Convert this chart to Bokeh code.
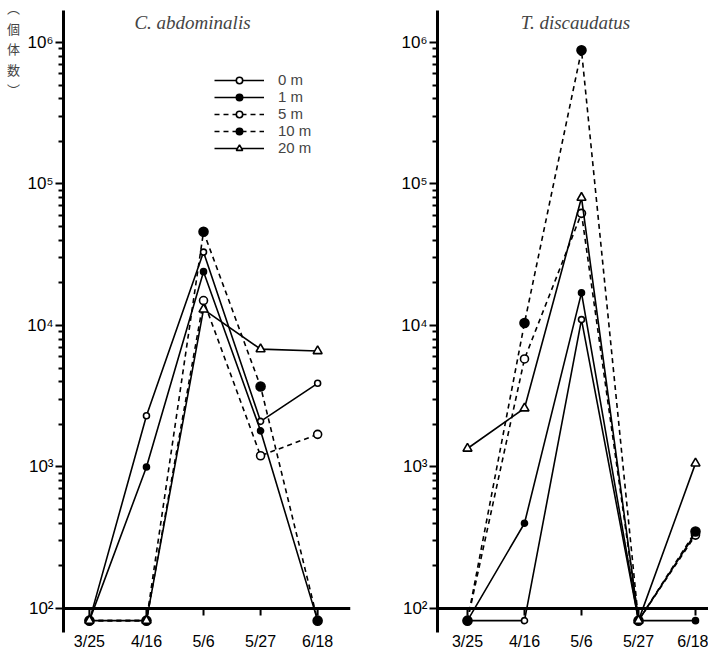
from bokeh.plotting import figure
from bokeh.layouts import row
from bokeh.models import Span, Label, Legend, LegendItem, FixedTicker, Range1d
from bokeh.embed import file_html
from bokeh.resources import INLINE

# ---------------- data ----------------
dates = ["3/25", "4/16", "5/6", "5/27", "6/18"]
depths = ["0 m", "1 m", "5 m", "10 m", "20 m"]

# C. abdominalis, individuals (0 = none found)
abd_0m = [0, 2300, 33000, 2100, 3900]
abd_1m = [0, 1000, 24000, 1800, 0]
abd_5m = [0, 0, 15000, 1200, 1700]
abd_10m = [0, 0, 46000, 3700, 0]
abd_20m = [0, 0, 13000, 6800, 6600]

# T. discaudatus, individuals (0 = none found)
dis_0m = [0, 0, 11000, 0, 340]
dis_1m = [0, 400, 17000, 0, 0]
dis_5m = [0, 5800, 62000, 0, 330]
dis_10m = [0, 10400, 880000, 0, 350]
dis_20m = [1350, 2600, 80000, 0, 1060]

y_major = [100, 1000, 10000, 100000, 1000000]
y_major_labels = ["10²", "10³", "10⁴", "10⁵", "10⁶"]

titles = ["C. abdominalis", "T. discaudatus"]
y_title_chars = ["︵", "個", "体", "数", "︶"]   # vertical "（個体数）"

# ---------------- style ----------------
ZERO_LEVEL = 82      # where "0" counts are drawn (just below the 10^2 axis)
AXIS_LEVEL = 100
styles = {
    "0 m": dict(marker="circle", size=6, fill="white", dash="solid"),
    "1 m": dict(marker="circle", size=6, fill="black", dash="solid"),
    "5 m": dict(marker="circle", size=8, fill="white", dash="5 4"),
    "10 m": dict(marker="circle", size=9, fill="black", dash="5 4"),
    "20 m": dict(marker="triangle", size=9, fill="white", dash="solid"),
}
SANS = "Liberation Sans"
H = 652


def plot_vals(v):
    return [a if a > 0 else ZERO_LEVEL for a in v]


def make_panel(series, width, border_left, border_right, xr, legend=False):
    p = figure(width=width, height=H, y_axis_type="log",
               x_range=Range1d(*xr), y_range=Range1d(10 ** 1.830, 10 ** 6.226),
               output_backend="svg", toolbar_location=None,
               min_border_left=border_left, min_border_right=border_right,
               min_border_top=10, min_border_bottom=0)
    p.outline_line_color = None
    p.xgrid.visible = False
    p.ygrid.visible = False
    p.background_fill_color = "white"
    p.border_fill_color = "white"

    # y axis
    ya = p.yaxis[0]
    ya.ticker = FixedTicker(ticks=y_major,
                            minor_ticks=[m * 10 ** e for e in range(2, 6) for m in range(2, 10)])
    ya.major_label_overrides = dict(zip(y_major, y_major_labels))
    ya.axis_line_width = 3
    ya.axis_line_color = "black"
    ya.major_tick_line_width = 2
    ya.minor_tick_line_width = 2
    ya.major_tick_out = 8
    ya.major_tick_in = 0
    ya.minor_tick_out = 5
    ya.minor_tick_in = 0
    ya.major_label_standoff = 2
    ya.major_label_text_font = SANS
    ya.major_label_text_font_size = "17px"
    ya.major_label_text_color = "black"

    # x axis labels (axis line drawn at 10^2 as a span)
    xa = p.xaxis[0]
    idx = list(range(len(dates)))
    xa.ticker = FixedTicker(ticks=idx)
    xa.major_label_overrides = {i: d for i, d in zip(idx, dates)}
    xa.axis_line_color = None
    xa.major_tick_line_color = None
    xa.minor_tick_line_color = None
    xa.major_tick_out = 0
    xa.major_tick_in = 0
    xa.major_label_standoff = 0
    xa.major_label_text_font = SANS
    xa.major_label_text_font_size = "16px"
    xa.major_label_text_color = "black"

    p.add_layout(Span(location=AXIS_LEVEL, dimension="width", line_color="black", line_width=3))
    p.segment(x0=idx, x1=idx, y0=[AXIS_LEVEL] * len(idx), y1=[AXIS_LEVEL * 0.89] * len(idx),
              line_color="black", line_width=2)

    items = []
    for name, vals in zip(depths, series):
        st = styles[name]
        yv = plot_vals(vals)
        lr = p.line(idx, yv, line_color="black", line_width=1.6, line_dash=st["dash"])
        sr = p.scatter(idx, yv, marker=st["marker"], size=st["size"],
                       fill_color=st["fill"], line_color="black", line_width=1.6)
        items.append(LegendItem(label=name, renderers=[lr, sr]))

    if legend:
        lg = Legend(items=items, location=(151, 476), padding=0, margin=0, spacing=0,
                    glyph_width=50, glyph_height=16, label_height=16, label_standoff=14,
                    label_text_font=SANS, label_text_font_size="15px",
                    label_text_line_height=1.0,
                    background_fill_alpha=0, border_line_alpha=0)
        p.add_layout(lg)
    return p


# narrow strip carrying the vertical y-axis title, one upright character per line
ylab = figure(width=24, height=H, x_axis_type=None, y_axis_type=None,
              x_range=Range1d(0, 1), y_range=Range1d(0, 1),
              output_backend="svg", toolbar_location=None,
              min_border_left=0, min_border_right=0, min_border_top=0, min_border_bottom=0)
ylab.outline_line_color = None
ylab.xgrid.visible = False
ylab.ygrid.visible = False
for i, ch in enumerate(y_title_chars):
    ylab.add_layout(Label(x=13, y=H - (27 + 20.5 * i), x_units="screen", y_units="screen",
                          text=ch, text_font="Noto Sans CJK JP", text_font_size="13px",
                          text_align="center", text_baseline="middle"))

left = make_panel([abd_0m, abd_1m, abd_5m, abd_10m, abd_20m],
                  width=336, border_left=38, border_right=10, xr=(-0.454, 4.576), legend=True)
right = make_panel([dis_0m, dis_1m, dis_5m, dis_10m, dis_20m],
                   width=348, border_left=77, border_right=0, xr=(-0.526, 4.228))

left.add_layout(Label(x=129, y=610, x_units="screen", y_units="screen", text=titles[0],
                      text_font="Liberation Serif", text_font_style="italic",
                      text_font_size="19px", text_align="center", text_baseline="middle"))
right.add_layout(Label(x=138, y=610, x_units="screen", y_units="screen", text=titles[1],
                       text_font="Liberation Serif", text_font_style="italic",
                       text_font_size="19px", text_align="center", text_baseline="middle"))

layout = row(ylab, left, right)
open("out.html", "w").write(file_html(layout, INLINE))
